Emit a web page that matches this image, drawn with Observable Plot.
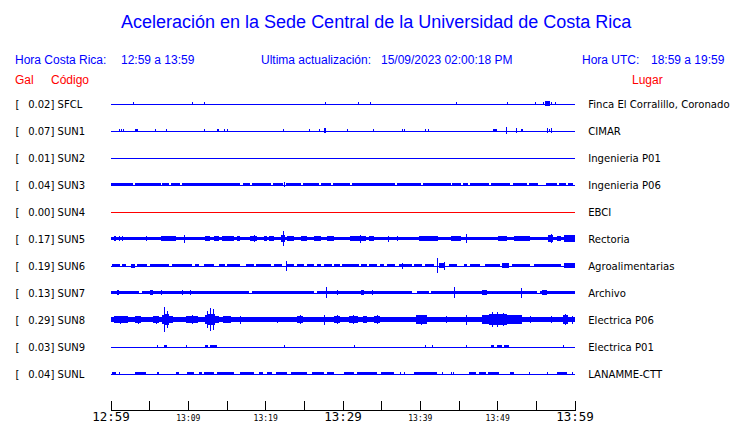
<!DOCTYPE html>
<html><head><meta charset="utf-8">
<script src="https://cdn.jsdelivr.net/npm/d3@7"></script>
<script src="https://cdn.jsdelivr.net/npm/@observablehq/plot@0.6"></script>
<style>
html,body{margin:0;padding:0;background:#fff;}
#wrap{position:relative;width:740px;height:423px;overflow:hidden;background:#fff;}
#head{position:relative;width:740px;height:86px;font-family:"Liberation Sans",Arial,sans-serif;}
#head span{position:absolute;white-space:pre;line-height:1;}
.b{color:#0000ff;font-size:12px;}
.r{color:#ff0000;font-size:12px;}
#title{font-size:18px;color:#0000ff;}
#chart svg{display:block;}
</style></head>
<body><div id="wrap"><div id="head">
<span id="title" style="left:121px;top:13px">Aceleración en la Sede Central de la Universidad de Costa Rica</span>
<span class="b" style="left:15px;top:54px">Hora Costa Rica:</span>
<span class="b" style="left:121px;top:54px">12:59 a 13:59</span>
<span class="b" style="left:261px;top:54px">Ultima actualización:</span>
<span class="b" style="left:381px;top:54px">15/09/2023 02:00:18 PM</span>
<span class="b" style="left:582px;top:54px">Hora UTC:</span>
<span class="b" style="left:651px;top:54px">18:59 a 19:59</span>
<span class="r" style="left:15px;top:74px">Gal</span>
<span class="r" style="left:51px;top:74px">Código</span>
<span class="r" style="left:632px;top:74px">Lugar</span>
</div><div id="chart"></div></div>
<script>
// ---- data ----
const stations = ["SFCL","SUN1","SUN2","SUN3","SUN4","SUN5","SUN6","SUN7","SUN8","SUN9","SUNL"];
const galMax = [0.02,0.07,0.01,0.04,0.00,0.17,0.19,0.13,0.29,0.03,0.04];
const places = ["Finca El Corralillo, Coronado","CIMAR","Ingenieria P01","Ingenieria P06","EBCI","Rectoria","Agroalimentarias","Archivo","Electrica P06","Electrica P01","LANAMME-CTT"];
const minorTicks = [0,5,10,15,20,25,30,35,40,45,50,55,60];
const majorTicks = [0,30,60];
const majorLabels = ["12:59","13:29","13:59"];
const midTicks = [10,20,40,50];
const midLabels = ["13:09","13:19","13:39","13:49"];

// trace envelopes: [start minute, end minute, half-amplitude in row heights]
// (start == end marks a single spike)
const sfcl = [[2.94,2.94,0.056],[10.56,10.56,0.056],[12.06,12.06,0.056],[27.80,27.80,0.045],[31.98,31.98,0.056],[33.53,33.53,0.056],[44.74,44.74,0.045],[51.30,51.30,0.074],[54.87,54.87,0.045],[55.95,55.95,0.07],[56.2,56.8,0.08],[56.9,56.9,0.06],[57.45,57.45,0.056]];
const sun1 = [[1.07,1.07,0.074],[1.38,1.38,0.074],[1.64,1.64,0.074],[3.23,3.53,0.074],[5.73,5.73,0.045],[7.24,7.24,0.056],[12.06,12.06,0.074],[13.71,14.0,0.074],[14.65,14.65,0.074],[15.0,15.0,0.074],[22.33,22.33,0.045],[25.64,25.64,0.045],[26.94,26.94,0.074],[27.67,27.93,0.085],[30.61,30.61,0.074],[33.97,33.97,0.056],[37.72,37.72,0.074],[37.93,37.93,0.074],[40.73,40.73,0.074],[41.03,41.03,0.074],[49.44,50.01,0.074],[51.08,51.08,0.148],[52.46,52.46,0.111],[53.1,53.35,0.074],[56.47,56.47,0.093],[56.7,56.7,0.074],[56.9,56.9,0.093]];
const sun2 = [];
const sun3 = [[0,2.97,0.056],[3.23,6.47,0.056],[6.69,7.54,0.056],[7.76,9.05,0.056],[9.31,16.81,0.056],[17.07,18.10,0.056],[18.36,20.69,0.056],[20.95,22.37,0.056],[22.41,22.41,0.085],[22.63,24.57,0.056],[24.83,26.90,0.056],[27.16,28.45,0.056],[28.71,31.03,0.056],[31.29,33.62,0.056],[33.62,36.85,0.056],[37.11,40.09,0.056],[40.35,43.97,0.056],[44.22,45.26,0.056],[45.52,46.29,0.056],[46.55,48.88,0.056],[49.14,51.72,0.056],[52.11,53.92,0.056],[54.18,55.22,0.056],[56.25,57.80,0.056],[58.06,58.84,0.056],[59.10,59.87,0.056]];
const sun4 = [];
const sun5 = [[0,60,0.07],[0.43,0.65,0.1],[1.07,1.07,0.093],[1.5,1.5,0.093],[4.53,4.75,0.093],[6.47,8.41,0.093],[9.48,9.48,0.148],[12.28,12.93,0.1],[13.36,13.97,0.093],[14.44,15.94,0.093],[16.38,16.81,0.085],[18.10,18.97,0.1],[18.5,18.5,0.13],[19.83,20.26,0.085],[20.47,21.12,0.085],[22.1,22.6,0.12],[22.33,22.33,0.27],[22.85,23.70,0.085],[24.57,25.44,0.085],[26.29,27.16,0.085],[28.02,28.88,0.085],[31.03,33.0,0.093],[32.2,32.2,0.148],[33.40,34.01,0.093],[35.82,35.82,0.111],[37.11,37.11,0.093],[39.83,42.41,0.093],[43.97,45.26,0.093],[46.03,46.03,0.167],[50.17,51.30,0.093],[52.15,54.31,0.093],[56.51,57.28,0.12],[56.9,56.9,0.167],[57.80,58.19,0.093],[58.58,60,0.12]];
const sun6 = [[0.22,1.29,0.056],[1.51,1.94,0.056],[2.59,3.23,0.074],[3.45,4.75,0.056],[5.17,7.54,0.056],[7.98,10.56,0.056],[10.99,11.42,0.056],[12.06,13.36,0.056],[14.0,14.87,0.056],[15.09,16.81,0.056],[17.46,18.53,0.056],[18.75,20.69,0.056],[21.12,22.20,0.056],[22.67,22.67,0.185],[22.85,23.70,0.056],[24.14,25.00,0.056],[25.44,26.29,0.056],[26.73,27.16,0.056],[27.67,28.67,0.056],[28.88,29.74,0.056],[29.96,32.11,0.056],[32.33,33.19,0.056],[33.40,34.49,0.056],[34.91,35.34,0.056],[35.78,36.85,0.056],[37.28,39.01,0.056],[37.63,37.63,0.111],[39.22,40.31,0.056],[40.73,41.81,0.056],[42.16,42.16,0.285],[42.5,43.3,0.085],[43.10,43.10,0.148],[43.75,44.83,0.056],[45.69,46.12,0.056],[46.55,47.84,0.056],[48.49,50.43,0.056],[50.65,51.51,0.085],[51.94,54.31,0.056],[54.74,58.19,0.056],[58.62,60,0.085]];
const sun7 = [[0,3.66,0.07],[0.78,1.07,0.085],[4.10,17.88,0.07],[5.17,5.56,0.093],[6.47,6.47,0.093],[9.27,9.27,0.085],[10.34,10.34,0.085],[18.32,26.29,0.07],[26.73,39.01,0.07],[27.84,27.84,0.204],[29.31,29.31,0.085],[32.33,32.72,0.093],[33.84,33.84,0.085],[39.66,41.16,0.07],[41.38,48.10,0.07],[44.48,44.48,0.204],[48.10,48.71,0.093],[48.71,55.18,0.07],[53.02,53.02,0.185],[55.60,60,0.07],[55.82,56.47,0.085]];
const sun8 = [[0,60,0.093],[0.39,2.20,0.12],[1.2,1.2,0.148],[3.23,3.88,0.13],[3.5,3.5,0.148],[5.56,6.21,0.13],[5.9,5.9,0.148],[6.6,6.9,0.15],[6.9,7.5,0.2],[7.5,8.1,0.14],[6.89,6.89,0.463],[7.3,7.3,0.3],[9.70,11.25,0.13],[10.5,10.5,0.16],[12.28,12.6,0.15],[12.6,13.5,0.22],[13.5,13.97,0.14],[12.50,12.50,0.3],[12.84,12.84,0.444],[13.28,13.28,0.4],[14.61,15.52,0.12],[16.81,16.81,0.148],[21.59,21.59,0.111],[24.18,24.83,0.13],[24.5,24.5,0.16],[27.58,27.58,0.185],[28.84,29.74,0.13],[29.3,29.3,0.16],[30.78,31.94,0.13],[31.4,31.4,0.16],[32.59,33.23,0.12],[34.01,34.91,0.14],[34.5,34.5,0.17],[39.44,40.99,0.15],[40.2,40.2,0.185],[43.32,43.32,0.13],[45.91,45.91,0.185],[48.06,49.0,0.15],[49.0,51.3,0.2],[51.3,53.2,0.15],[49.3,49.3,0.26],[50.0,50.0,0.278],[50.7,50.7,0.25],[54.31,54.31,0.13],[56.90,56.90,0.13],[58.45,59.10,0.16],[58.8,58.8,0.204],[59.74,59.74,0.148]];
const sun9 = [[6.04,6.04,0.056],[6.89,7.33,0.06],[9.70,9.70,0.045],[12.28,12.6,0.06],[12.9,13.71,0.06],[22.41,22.41,0.045],[31.55,31.55,0.056],[40.64,40.64,0.056],[41.51,41.51,0.056],[46.00,46.00,0.056],[49.14,49.6,0.05],[50.0,50.6,0.05],[50.9,51.51,0.05],[58.54,58.54,0.056]];
const sunl = [[0.22,0.65,0.05],[1.16,1.16,0.056],[3.23,4.53,0.05],[6.04,6.25,0.05],[8.41,8.83,0.05],[9.92,10.77,0.05],[11.42,11.86,0.05],[12.06,13.36,0.05],[13.80,15.94,0.05],[16.81,18.5,0.05],[19.14,19.78,0.05],[20.26,20.91,0.05],[21.34,22.85,0.05],[23.28,25.44,0.05],[26.08,27.58,0.05],[28.02,28.88,0.05],[30.17,31.46,0.05],[31.90,34.49,0.05],[35.0,36.63,0.05],[37.4,37.4,0.056],[38.0,38.0,0.056],[39.22,42.25,0.056],[42.89,42.89,0.056],[43.97,43.97,0.056],[44.3,44.3,0.056],[46.33,47.2,0.05],[47.6,48.5,0.05],[48.8,50.21,0.05],[51.72,52.15,0.05],[54.09,54.09,0.056],[56.47,56.47,0.056],[57.76,59.06,0.05],[59.70,59.70,0.056]];
const traces = [sfcl,sun1,sun2,sun3,sun4,sun5,sun6,sun7,sun8,sun9,sunl];

// ---- build tables ----
const events = traces.flatMap((tr, row) => tr.map(([t0, t1, a]) => ({row, t0, t1, a})));
const bands = events.filter(d => d.t1 > d.t0);
const spikes = events.filter(d => d.t1 === d.t0);
const rows = stations.map((code, i) => ({code, i, gal: galMax[i], place: places[i]}));

const BLUE = "#0000ff", RED = "#ff0000";
const axisRow = 11.333; // bottom edge of the frame (time axis line)

const chart = Plot.plot({
  width: 740,
  height: 337,
  marginLeft: 110.5,
  marginRight: 165.5,
  marginTop: 4,
  marginBottom: 13.5,
  style: {fontFamily: "DejaVu Sans", fontSize: "10px", background: "white"},
  x: {domain: [0, 60], axis: null},
  y: {domain: [axisRow, -0.5], axis: null},
  marks: [
    Plot.ruleY(rows.filter(d => d.gal > 0), {y: "i", stroke: BLUE, shapeRendering: "crispEdges"}),
    Plot.ruleY(rows.filter(d => d.gal === 0), {y: "i", stroke: RED, shapeRendering: "crispEdges"}),
    Plot.rect(bands, {x1: "t0", x2: "t1", y1: d => d.row - d.a, y2: d => d.row + d.a, fill: BLUE, shapeRendering: "crispEdges"}),
    Plot.ruleX(spikes, {x: "t0", y1: d => d.row - d.a, y2: d => d.row + d.a, stroke: BLUE, shapeRendering: "crispEdges"}),
    // left labels
    Plot.text(rows, {y: "i", text: () => "[", frameAnchor: "left", textAnchor: "start", dx: -95.5, dy: 0.6, fontSize: 10, fontFamily: "DejaVu Sans", fill: "black"}),
    Plot.text(rows, {y: "i", text: d => d.gal.toFixed(2) + "] " + d.code, frameAnchor: "left", textAnchor: "start", dx: -82.8, dy: 0.6, fontSize: 10, fontFamily: "DejaVu Sans", fill: "black"}),
    // right labels
    Plot.text(rows, {y: "i", text: "place", frameAnchor: "right", textAnchor: "start", dx: 13.2, dy: 0.6, fontSize: 10.1, fontFamily: "DejaVu Sans", fill: "black"}),
    // time axis
    Plot.ruleY([axisRow], {stroke: "black", shapeRendering: "crispEdges"}),
    Plot.axisX({ticks: minorTicks, anchor: "top", frameAnchor: "bottom", tickSize: 10, fill: "none", label: null, stroke: "black", shapeRendering: "crispEdges"}),
    Plot.text(majorTicks, {x: d => d, text: (d, i) => majorLabels[i], frameAnchor: "bottom", lineAnchor: "top", dy: 2.4, fontSize: 12.5, fontFamily: "DejaVu Sans Mono", fill: "black"}),
    Plot.text(midTicks, {x: d => d, text: (d, i) => midLabels[i], frameAnchor: "bottom", lineAnchor: "top", dy: 5, fontSize: 8, fontFamily: "DejaVu Sans Mono", fill: "black"})
  ]
});
document.getElementById("chart").appendChild(chart);
</script>
</body></html>
